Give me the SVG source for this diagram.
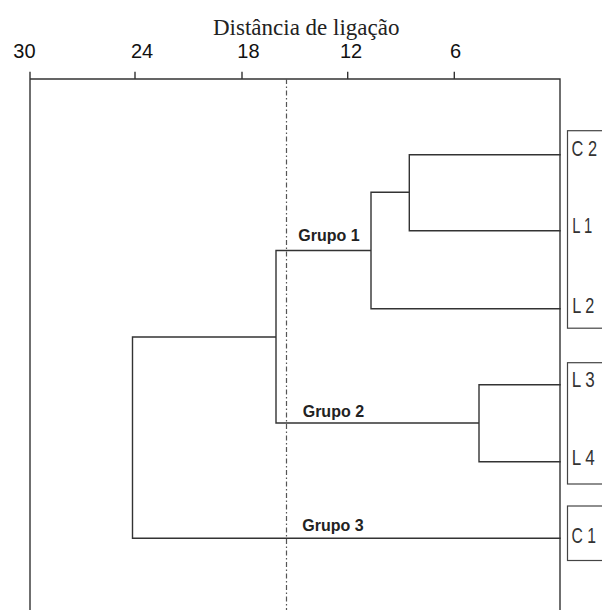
<svg xmlns="http://www.w3.org/2000/svg" width="602" height="610" viewBox="0 0 602 610">
<style>
.ln{fill:none;stroke:#333;stroke-width:1.4;stroke-linecap:square}
.box{fill:none;stroke:#444;stroke-width:1.2}
.num{font-family:"Liberation Sans",Arial,sans-serif;font-size:20px;fill:#111}
.ttl{font-family:"Liberation Serif","Times New Roman",serif;font-size:23px;fill:#222}
.leaf{font-family:"Liberation Sans",Arial,sans-serif;font-size:22px;fill:#333}
.grp{font-family:"Liberation Sans",Arial,sans-serif;font-size:16px;font-weight:bold;fill:#222}
.cut{fill:none;stroke:#555;stroke-width:1.2;stroke-dasharray:5,2.5,1.5,2.5}
</style>
<rect width="602" height="610" fill="#fff"/>
<g id="axis">
<text class="ttl" x="213" y="35">Distância de ligação</text>
<text class="num" x="13.3" y="57.7">30</text>
<text class="num" x="131" y="57.7">24</text>
<text class="num" x="237.3" y="57.7">18</text>
<text class="num" x="340" y="57.7">12</text>
<text class="num" x="450" y="57.7">6</text>
<path class="ln" d="M30,72.5V610M560,79V610M30,79H560M135,72.5V79M242,72.5V79M347.7,72.5V79M454.3,72.5V79"/>
</g>
<g id="connectors">
<path class="ln" d="M560,154.7H409.3V230.7H560M409.3,192.3H371V308.7H560M371,250.5H276V423H479M560,384.7H479V461.7H560M276,337H132.5V538.3H560"/>
<line class="cut" x1="286.5" y1="79" x2="286.5" y2="610"/>
</g>
<g id="box1"><rect class="box" x="567.5" y="130.7" width="40" height="197.5"/></g>
<g id="box2"><rect class="box" x="567.5" y="362.7" width="40" height="121.3"/></g>
<g id="box3"><rect class="box" x="567.5" y="506" width="40" height="54.5"/></g>
<g id="C2"><text class="leaf" x="571.5" y="156" textLength="25.5" lengthAdjust="spacingAndGlyphs">C 2</text></g>
<g id="L1"><text class="leaf" x="572.3" y="233.3" textLength="20" lengthAdjust="spacingAndGlyphs">L 1</text></g>
<g id="L2"><text class="leaf" x="572.3" y="312.7" textLength="22" lengthAdjust="spacingAndGlyphs">L 2</text></g>
<g id="L3"><text class="leaf" x="571.7" y="387.3" textLength="23" lengthAdjust="spacingAndGlyphs">L 3</text></g>
<g id="L4"><text class="leaf" x="571.7" y="465" textLength="23" lengthAdjust="spacingAndGlyphs">L 4</text></g>
<g id="C1"><text class="leaf" x="571.5" y="542.7" textLength="24.5" lengthAdjust="spacingAndGlyphs">C 1</text></g>
<g id="grupo1"><text class="grp" x="298.3" y="240.7">Grupo 1</text></g>
<g id="grupo2"><text class="grp" x="302.7" y="416.7">Grupo 2</text></g>
<g id="grupo3"><text class="grp" x="302.3" y="530.7">Grupo 3</text></g>
</svg>
